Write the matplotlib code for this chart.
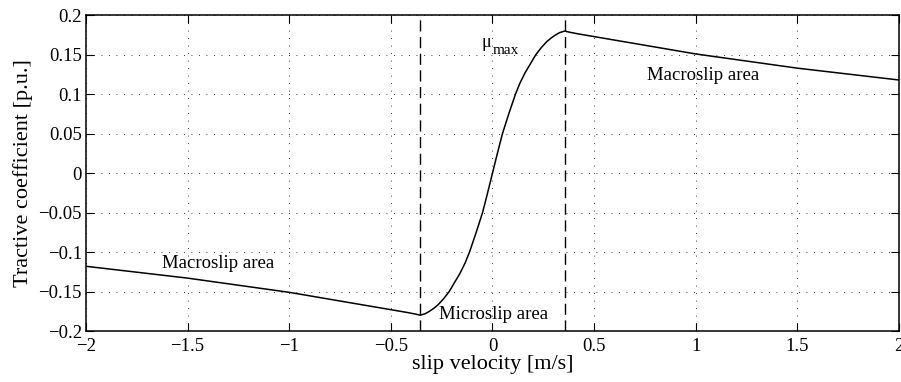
import matplotlib
matplotlib.use("Agg")
import matplotlib.pyplot as plt

# curve (slip velocity [m/s] -> tractive coefficient [p.u.])
slip = [-2.0, -1.5, -1.0, -0.5, -0.42, -0.38, -0.355, -0.33, -0.31, -0.29, -0.267,
        -0.24, -0.213, -0.19, -0.16, -0.135, -0.113, -0.08, -0.049, -0.025, 0.0,
        0.025, 0.049, 0.08, 0.113, 0.135, 0.16, 0.19, 0.213, 0.24, 0.267,
        0.29, 0.31, 0.33, 0.355, 0.38, 0.42, 0.5, 1.0, 1.5, 2.0]
mu = [-0.118, -0.133, -0.151, -0.173, -0.1765, -0.1785, -0.180, -0.178, -0.175, -0.1715, -0.1666,
      -0.159, -0.150, -0.140, -0.127, -0.114, -0.100, -0.075, -0.050, -0.026, 0.0,
      0.026, 0.050, 0.075, 0.100, 0.114, 0.127, 0.140, 0.150, 0.159, 0.1666,
      0.1715, 0.175, 0.178, 0.180, 0.1785, 0.1765, 0.173, 0.151, 0.133, 0.118]

v_limit = [-0.357, 0.357]   # boundaries micro/macro slip

xticks = [-2, -1.5, -1, -0.5, 0, 0.5, 1, 1.5, 2]
xticklabels = ["\u22122", "\u22121.5", "\u22121", "\u22120.5", "0", "0.5", "1", "1.5", "2"]
yticks = [-0.2, -0.15, -0.1, -0.05, 0, 0.05, 0.1, 0.15, 0.2]
yticklabels = ["\u22120.2", "\u22120.15", "\u22120.1", "\u22120.05", "0", "0.05", "0.1", "0.15", "0.2"]

plt.rcParams["font.family"] = ["Liberation Serif", "DejaVu Serif"]

fig = plt.figure(figsize=(9.01, 3.82), dpi=100)
ax = fig.add_axes([0.0954, 0.1335, 0.9024, 0.8265])

ax.plot(slip, mu, color="black", lw=1.1)
for v in v_limit:
    ax.axvline(v, color="black", lw=1.0, dashes=(8, 4))

ax.set_xlim(-2, 2)
ax.set_ylim(-0.2, 0.2)
ax.set_xticks(xticks)
ax.set_xticklabels(xticklabels)
ax.set_yticks(yticks)
ax.set_yticklabels(yticklabels)
ax.tick_params(direction="in", top=True, right=True, length=6, labelsize=13.5, pad=3)
ax.tick_params(axis="x", pad=5)
ax.grid(True, linestyle=(0, (1, 8)), color="black", lw=0.6)
for s in ax.spines.values():
    s.set_linewidth(1.1)

ax.set_xlabel("slip velocity [m/s]", fontsize=16, labelpad=0)
ax.set_ylabel("Tractive coefficient [p.u.]", fontsize=16, labelpad=4)

ax.text(-1.35, -0.114, "Macroslip area", fontsize=13.5, ha="center", va="center")
ax.text(1.035, 0.1243, "Macroslip area", fontsize=13.5, ha="center", va="center")
ax.text(0.006, -0.1786, "Microslip area", fontsize=13.5, ha="center", va="center")
ax.text(-0.005, 0.1655, "\u03bc", fontsize=13, ha="right", va="center")
ax.text(0.0, 0.1548, "max", fontsize=11, ha="left", va="center")

fig.savefig("out.png", dpi=100)
